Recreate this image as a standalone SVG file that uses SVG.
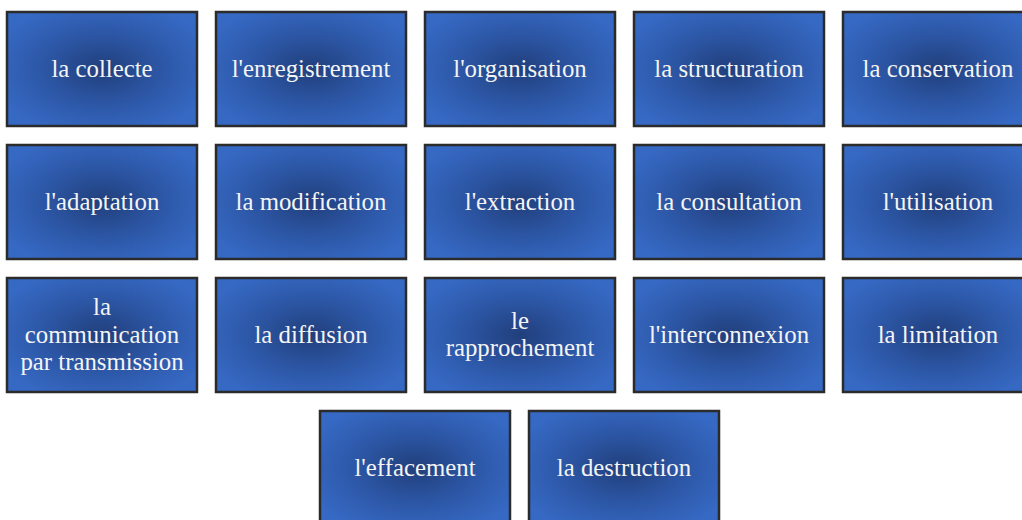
<svg xmlns="http://www.w3.org/2000/svg" width="1022" height="520" viewBox="0 0 1022 520">
<defs>
<radialGradient id="g" cx="50%" cy="50%" r="60%">
<stop offset="0" stop-color="#213f7c"/>
<stop offset="0.55" stop-color="#2d58a8"/>
<stop offset="1" stop-color="#3669c4"/>
</radialGradient>
</defs>
<style>
.b{fill:url(#g);stroke:#2b2b2b;stroke-width:2.5}
.t{font-family:"Liberation Serif","DejaVu Serif",serif;font-size:24.8px;fill:#f4f4f4;text-anchor:middle}
</style>
<rect width="1022" height="520" fill="#ffffff"/>
<g id="n1"><rect class="b" x="7" y="12" width="190" height="114"/><text class="t" x="102" y="77">la collecte</text></g>
<g id="n2"><rect class="b" x="216" y="12" width="190" height="114"/><text class="t" x="311" y="77">l'enregistrement</text></g>
<g id="n3"><rect class="b" x="425" y="12" width="190" height="114"/><text class="t" x="520" y="77">l'organisation</text></g>
<g id="n4"><rect class="b" x="634" y="12" width="190" height="114"/><text class="t" x="729" y="77">la structuration</text></g>
<g id="n5"><rect class="b" x="843" y="12" width="190" height="114"/><text class="t" x="938" y="77">la conservation</text></g>
<g id="n6"><rect class="b" x="7" y="145" width="190" height="114"/><text class="t" x="102" y="210">l'adaptation</text></g>
<g id="n7"><rect class="b" x="216" y="145" width="190" height="114"/><text class="t" x="311" y="210">la modification</text></g>
<g id="n8"><rect class="b" x="425" y="145" width="190" height="114"/><text class="t" x="520" y="210">l'extraction</text></g>
<g id="n9"><rect class="b" x="634" y="145" width="190" height="114"/><text class="t" x="729" y="210">la consultation</text></g>
<g id="n10"><rect class="b" x="843" y="145" width="190" height="114"/><text class="t" x="938" y="210">l'utilisation</text></g>
<g id="n11"><rect class="b" x="7" y="278" width="190" height="114"/><text class="t" x="102" y="315">la</text><text class="t" x="102" y="343">communication</text><text class="t" x="102" y="370">par transmission</text></g>
<g id="n12"><rect class="b" x="216" y="278" width="190" height="114"/><text class="t" x="311" y="343">la diffusion</text></g>
<g id="n13"><rect class="b" x="425" y="278" width="190" height="114"/><text class="t" x="520" y="329">le</text><text class="t" x="520" y="356">rapprochement</text></g>
<g id="n14"><rect class="b" x="634" y="278" width="190" height="114"/><text class="t" x="729" y="343">l'interconnexion</text></g>
<g id="n15"><rect class="b" x="843" y="278" width="190" height="114"/><text class="t" x="938" y="343">la limitation</text></g>
<g id="n16"><rect class="b" x="320" y="411" width="190" height="114"/><text class="t" x="415" y="476">l'effacement</text></g>
<g id="n17"><rect class="b" x="529" y="411" width="190" height="114"/><text class="t" x="624" y="476">la destruction</text></g>
<g id="connectors"></g>
</svg>
